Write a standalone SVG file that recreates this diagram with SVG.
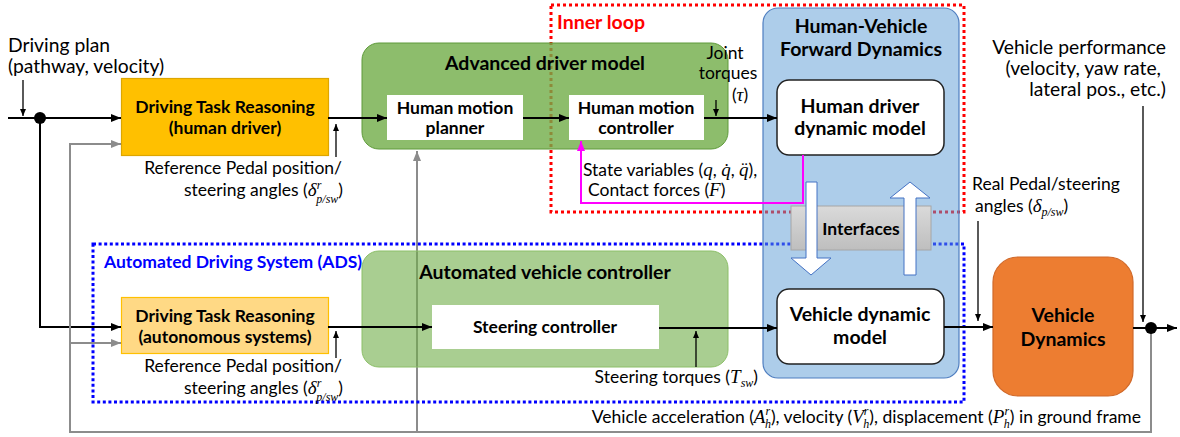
<svg xmlns="http://www.w3.org/2000/svg" width="1180" height="437" viewBox="0 0 1180 437">
  <style>
    text { font-family: Lato, "Liberation Sans", sans-serif; fill: #000; }
    .lbl { font-size: 17.5px; }
    .big { font-size: 19.3px; }
    .b { font-size: 17.5px; font-weight: bold; }
    .t { font-size: 19.5px; font-weight: bold; }
    .m { font-family: "Liberation Serif", serif; font-style: italic; font-size: 19px; }
    .s { font-size: 12px; }
    .blk { stroke: #000; stroke-width: 2; fill: none; }
    .thin { stroke: #000; stroke-width: 1.3; fill: none; }
    .gry { stroke: #8C8C8C; stroke-width: 2; fill: none; }
    .white { fill: #fff; }
  </style>
  <defs>
    <marker id="ah" viewBox="0 0 10 8" refX="10" refY="4" markerWidth="10" markerHeight="8" markerUnits="userSpaceOnUse" orient="auto">
      <path d="M0,0 L10,4 L0,8 z" fill="#000"/>
    </marker>
    <marker id="ahs" viewBox="0 0 7 6" refX="7" refY="3" markerWidth="7" markerHeight="6" markerUnits="userSpaceOnUse" orient="auto">
      <path d="M0,0 L7,3 L0,6 z" fill="#000"/>
    </marker>
    <marker id="ahg" viewBox="0 0 10 8" refX="10" refY="4" markerWidth="10" markerHeight="8" markerUnits="userSpaceOnUse" orient="auto">
      <path d="M0,0 L10,4 L0,8 z" fill="#8C8C8C"/>
    </marker>
    <marker id="ahm" viewBox="0 0 10 8" refX="10" refY="4" markerWidth="10" markerHeight="8" markerUnits="userSpaceOnUse" orient="auto">
      <path d="M0,0 L10,4 L0,8 z" fill="#FF00FF"/>
    </marker>
    <linearGradient id="gIf" x1="0" y1="0" x2="0" y2="1">
      <stop offset="0" stop-color="#DADADA"/>
      <stop offset="1" stop-color="#BEBEBE"/>
    </linearGradient>
  </defs>

  <!-- feedback lines and loop boundaries, drawn beneath the translucent blocks -->
  <g id="back-connectors">
    <path class="gry" d="M417,432 V151" marker-end="url(#ahg)"/>
    <rect id="inner-loop" x="551" y="5" width="413" height="207" fill="none" stroke="#FF0000" stroke-width="3" stroke-dasharray="3 3"/>
    <rect id="ads" x="93" y="244" width="871" height="158" fill="none" stroke="#0000FF" stroke-width="3" stroke-dasharray="3 2.6"/>
  </g>

  <text x="557" y="29" style="font-size:19.5px;font-weight:bold;fill:#FF0000">Inner loop</text>
  <text x="104" y="268" style="font-size:17.5px;font-weight:bold;fill:#0000FF">Automated Driving System (ADS)</text>

  <!-- Human driver task reasoning -->
  <g id="dtr-human">
    <rect x="121.5" y="78.5" width="207" height="77" fill="#FFC000" stroke="#DDA600" stroke-width="1.2"/>
    <text class="b" x="225" y="113" text-anchor="middle">Driving Task Reasoning</text>
    <text class="b" x="225" y="134" text-anchor="middle">(human driver)</text>
  </g>

  <!-- Autonomous task reasoning -->
  <g id="dtr-auto">
    <rect x="121.5" y="297.5" width="207" height="56" fill="#FFD985" stroke="#FFC000" stroke-width="1.2"/>
    <text class="b" x="225" y="322" text-anchor="middle">Driving Task Reasoning</text>
    <text class="b" x="225" y="343" text-anchor="middle">(autonomous systems)</text>
  </g>

  <!-- Advanced driver model -->
  <g id="advanced-driver-model">
    <rect x="362" y="43" width="366" height="106" rx="17" fill="#70AD47" fill-opacity="0.8" stroke="#5E9A3A" stroke-width="1"/>
    <text class="t" x="545" y="70" text-anchor="middle">Advanced driver model</text>
  </g>
  <g id="motion-planner">
    <rect class="white" x="387" y="95" width="136" height="45"/>
    <text class="b" x="455" y="114" text-anchor="middle">Human motion</text>
    <text class="b" x="455" y="134" text-anchor="middle">planner</text>
  </g>
  <g id="motion-controller">
    <rect class="white" x="569" y="95" width="135" height="45"/>
    <text class="b" x="636" y="114" text-anchor="middle">Human motion</text>
    <text class="b" x="636" y="134" text-anchor="middle">controller</text>
  </g>

  <!-- Automated vehicle controller -->
  <g id="automated-controller">
    <rect x="362" y="251" width="366" height="116" rx="17" fill="#70AD47" fill-opacity="0.6" stroke="#8CBF68" stroke-width="1"/>
    <text class="t" x="545" y="279" text-anchor="middle">Automated vehicle controller</text>
  </g>
  <g id="steering-controller">
    <rect class="white" x="432" y="305" width="227" height="44"/>
    <text class="b" x="545" y="333" text-anchor="middle">Steering controller</text>
  </g>

  <!-- Human-vehicle forward dynamics -->
  <g id="forward-dynamics">
    <rect x="763" y="8" width="196" height="370" rx="15" fill="#5B9BD5" fill-opacity="0.5" stroke="#4F7EC0" stroke-width="1.2"/>
    <text class="t" x="861" y="33" text-anchor="middle">Human-Vehicle</text>
    <text class="t" x="861" y="56" text-anchor="middle">Forward Dynamics</text>
  </g>
  <g id="human-dynamic-model">
    <rect x="777" y="80" width="167" height="75" rx="12" fill="#fff" stroke="#222" stroke-width="1.5"/>
    <text class="t" x="860" y="113" text-anchor="middle">Human driver</text>
    <text class="t" x="860" y="135" text-anchor="middle">dynamic model</text>
  </g>
  <g id="interfaces">
    <rect x="791" y="206" width="140" height="44" fill="url(#gIf)" stroke="#A6A6A6" stroke-width="1"/>
    <text class="b" x="861" y="235" text-anchor="middle">Interfaces</text>
  </g>
  <g id="vehicle-dynamic-model">
    <rect x="777" y="289" width="167" height="75" rx="12" fill="#fff" stroke="#222" stroke-width="1.5"/>
    <text class="t" x="860" y="321" text-anchor="middle">Vehicle dynamic</text>
    <text class="t" x="860" y="344" text-anchor="middle">model</text>
  </g>

  <!-- Vehicle dynamics -->
  <g id="vehicle-dynamics">
    <rect x="993" y="257" width="140" height="139" rx="25" fill="#ED7D31" stroke="#D0692A" stroke-width="1.2"/>
    <text x="1063" y="322" text-anchor="middle" style="font-size:19.5px;font-weight:bold">Vehicle</text>
    <text x="1063" y="346" text-anchor="middle" style="font-size:19.5px;font-weight:bold">Dynamics</text>
  </g>

  <!-- signal flow -->
  <g id="connectors">
    <!-- interface arrows -->
    <path d="M806,182 H817 V258 H831 L811,275 L791,258 H806 Z" fill="#fff" stroke="#4472C4" stroke-width="1"/>
    <path d="M904,275 H916 V198 H930 L910,182 L890,198 H904 Z" fill="#fff" stroke="#4472C4" stroke-width="1"/>

    <path class="blk" d="M8,118 H121" marker-end="url(#ah)"/>
    <path class="thin" d="M23,80 V116" marker-end="url(#ahs)"/>
    <path class="blk" d="M40,118 V327 H121" marker-end="url(#ah)"/>
    <path class="gry" d="M1151,328 V432 H70 V144 H121" marker-end="url(#ahg)"/>
    <path class="gry" d="M70,343 H121" marker-end="url(#ahg)"/>

    <path class="blk" d="M328,118 H387" marker-end="url(#ah)"/>
    <path class="thin" d="M336,157 V124" marker-end="url(#ahs)"/>
    <path class="blk" d="M523,118 H569" marker-end="url(#ah)"/>
    <path class="blk" d="M704,118 H777" marker-end="url(#ah)"/>
    <path class="thin" d="M716,100 V116" marker-end="url(#ahs)"/>
    <path d="M803,155 V203 H581 V141" fill="none" stroke="#FF00FF" stroke-width="2" marker-end="url(#ahm)"/>

    <path class="blk" d="M328,327 H432" marker-end="url(#ah)"/>
    <path class="thin" d="M336,358 V331" marker-end="url(#ahs)"/>
    <path class="blk" d="M659,328 H777" marker-end="url(#ah)"/>
    <path class="thin" d="M696,367 V331" marker-end="url(#ahs)"/>

    <path class="blk" d="M944,327 H993" marker-end="url(#ah)"/>
    <path class="thin" d="M978,221 V321" marker-end="url(#ahs)"/>
    <path class="blk" d="M1133,328 H1177" marker-end="url(#ah)"/>
    <path class="thin" d="M1143,106 V322" marker-end="url(#ahs)"/>

    <circle cx="40" cy="118" r="6" fill="#000"/>
    <circle cx="1151" cy="328" r="6" fill="#000"/>
  </g>

  <!-- signal labels -->
  <g id="labels">
    <text class="big" x="8" y="52">Driving plan</text>
    <text class="big" x="8" y="73">(pathway, velocity)</text>

    <text class="lbl" x="342" y="174" text-anchor="end">Reference Pedal position/</text>
    <text class="lbl" x="343" y="196" text-anchor="end">steering angles (<tspan class="m">δ</tspan><tspan class="m s" dy="-7">r</tspan><tspan class="m s" dx="-5" dy="14">p/sw</tspan><tspan dy="-7">)</tspan></text>

    <text class="lbl" x="342" y="372" text-anchor="end">Reference Pedal position/</text>
    <text class="lbl" x="343" y="394" text-anchor="end">steering angles (<tspan class="m">δ</tspan><tspan class="m s" dy="-7">r</tspan><tspan class="m s" dx="-5" dy="14">p/sw</tspan><tspan dy="-7">)</tspan></text>

    <text class="lbl" x="725" y="59" text-anchor="middle">Joint</text>
    <text class="lbl" x="728" y="79" text-anchor="middle">torques</text>
    <text class="lbl" x="740" y="101" text-anchor="middle">(<tspan class="m">τ</tspan>)</text>

    <text class="lbl" x="583" y="176">State variables (<tspan class="m">q</tspan>, <tspan class="m">q̇</tspan>, <tspan class="m">q̈</tspan>),</text>
    <text class="lbl" x="588" y="196">Contact forces (<tspan class="m">F</tspan>)</text>

    <text class="big" x="1166" y="54" text-anchor="end">Vehicle performance</text>
    <text class="big" x="1161" y="75" text-anchor="end">(velocity, yaw rate,</text>
    <text class="big" x="1166" y="96" text-anchor="end">lateral pos., etc.)</text>

    <text class="lbl" x="972" y="190">Real Pedal/steering</text>
    <text class="lbl" x="975" y="212">angles (<tspan class="m">δ</tspan><tspan class="m s" dy="4">p/sw</tspan><tspan dy="-4">)</tspan></text>

    <text class="lbl" x="758" y="383" text-anchor="end">Steering torques (<tspan class="m">T</tspan><tspan class="m s" dy="4">sw</tspan><tspan dy="-4">)</tspan></text>

    <text class="lbl" x="1141" y="423" text-anchor="end">Vehicle acceleration (<tspan class="m">A</tspan><tspan class="m s" dy="-8">r</tspan><tspan class="m s" dx="-5" dy="13">h</tspan><tspan dy="-5">), velocity (</tspan><tspan class="m">V</tspan><tspan class="m s" dy="-8">r</tspan><tspan class="m s" dx="-5" dy="13">h</tspan><tspan dy="-5">), displacement (</tspan><tspan class="m">P</tspan><tspan class="m s" dy="-8">r</tspan><tspan class="m s" dx="-5" dy="13">h</tspan><tspan dy="-5">) in ground frame</tspan></text>
  </g>
</svg>
